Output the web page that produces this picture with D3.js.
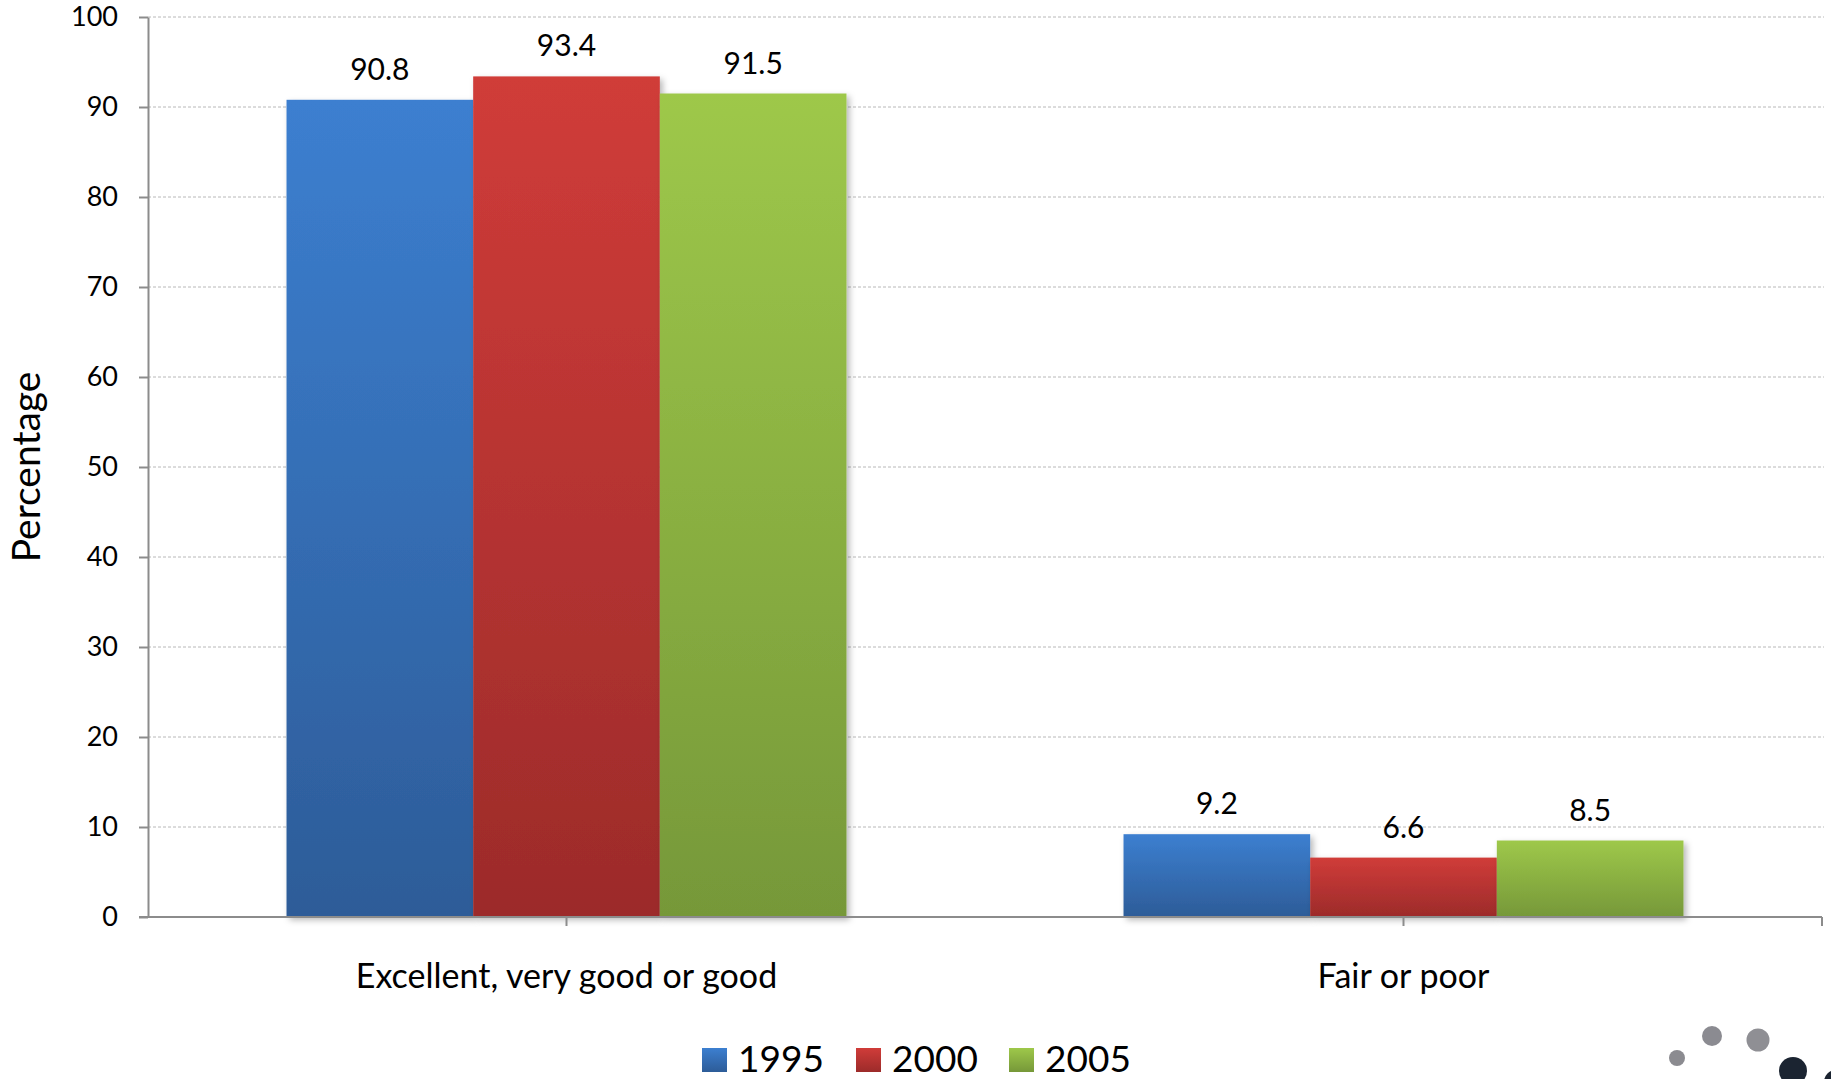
<!DOCTYPE html>
<html>
<head>
<meta charset="utf-8">
<script src="https://cdn.jsdelivr.net/npm/d3@7"></script>
<style>
  html, body { margin: 0; padding: 0; background: #fff; }
  svg { display: block; font-family: Lato, "Open Sans", sans-serif; }
</style>
</head>
<body>
<svg id="chart" width="1831" height="1079"></svg>
<script>
// Self-rated health, share of respondents by survey year
const categories = ["Excellent, very good or good", "Fair or poor"];
const years = ["1995", "2000", "2005"];
const values1995 = [90.8, 9.2];
const values2000 = [93.4, 6.6];
const values2005 = [91.5, 8.5];
const yTicks = [0, 10, 20, 30, 40, 50, 60, 70, 80, 90, 100];
const yTitle = "Percentage";

const seriesValues = [values1995, values2000, values2005];
const colors = [
  { top: "#3c7fd0", bottom: "#2d5c98" },
  { top: "#d03c39", bottom: "#9c2b2a" },
  { top: "#9ec84a", bottom: "#769839" }
];

const svg = d3.select("#chart");
const plot = { left: 148, right: 1822, top: 17, bottom: 917 };

const defs = svg.append("defs");
colors.forEach((c, i) => {
  const g = defs.append("linearGradient")
    .attr("id", "grad" + i).attr("x1", 0).attr("y1", 0).attr("x2", 0).attr("y2", 1);
  g.append("stop").attr("offset", "0%").attr("stop-color", c.top);
  g.append("stop").attr("offset", "100%").attr("stop-color", c.bottom);
});
const shadow = defs.append("filter").attr("id", "shadow")
  .attr("x", "-10%").attr("y", "-10%").attr("width", "130%").attr("height", "130%");
shadow.append("feDropShadow").attr("dx", 3).attr("dy", 3)
  .attr("stdDeviation", 3).attr("flood-color", "#000").attr("flood-opacity", 0.28);

const y = d3.scaleLinear().domain([0, 100]).range([plot.bottom, plot.top]);
const x0 = d3.scaleBand().domain(categories)
  .range([plot.left, plot.right]).paddingInner(0.331).paddingOuter(0.1655);
const x1 = d3.scaleBand().domain(years).range([0, x0.bandwidth()]).padding(0);

// Horizontal gridlines
svg.append("g").selectAll("line")
  .data(yTicks.filter(t => t > 0))
  .join("line")
  .attr("x1", plot.left).attr("x2", plot.right + 2)
  .attr("y1", d => y(d)).attr("y2", d => y(d))
  .attr("stroke", "#b8b8b8").attr("stroke-width", 1)
  .attr("stroke-dasharray", "3,2");

// Y axis
const yAxis = svg.append("g")
  .attr("transform", `translate(${plot.left},0)`)
  .call(d3.axisLeft(y).tickValues(yTicks).tickSize(9).tickPadding(21).tickSizeOuter(0));
yAxis.select(".domain").attr("stroke", "#8c8c8c").attr("stroke-width", 2);
yAxis.selectAll(".tick line").attr("stroke", "#8c8c8c").attr("stroke-width", 2);
yAxis.selectAll(".tick text")
  .attr("font-size", 27).attr("fill", "#000")
  .attr("font-family", "Lato, sans-serif");

// Bars
const groups = svg.append("g").selectAll("g")
  .data(categories)
  .join("g")
  .attr("transform", d => `translate(${x0(d)},0)`);

groups.selectAll("rect")
  .data((d, ci) => years.map((yr, si) => ({ yr, si, v: seriesValues[si][ci] })))
  .join("rect")
  .attr("x", d => x1(d.yr))
  .attr("y", d => y(d.v))
  .attr("width", x1.bandwidth())
  .attr("height", d => y(0) - y(d.v))
  .attr("fill", d => `url(#grad${d.si})`)
  .attr("filter", "url(#shadow)");

groups.selectAll("text")
  .data((d, ci) => years.map((yr, si) => ({ yr, si, v: seriesValues[si][ci] })))
  .join("text")
  .attr("x", d => x1(d.yr) + x1.bandwidth() / 2)
  .attr("y", d => y(d.v) - 20)
  .attr("text-anchor", "middle")
  .attr("font-size", 30)
  .attr("fill", "#000")
  .text(d => d.v.toFixed(1));

// X axis line with ticks
const xAxisG = svg.append("g");
xAxisG.append("line")
  .attr("x1", plot.left - 9).attr("x2", plot.right)
  .attr("y1", plot.bottom).attr("y2", plot.bottom)
  .attr("stroke", "#8c8c8c").attr("stroke-width", 2);
const xTickPos = categories.map(c => x0(c) + x0.bandwidth() / 2).concat([plot.right]);
xAxisG.selectAll("line.tick")
  .data(xTickPos)
  .join("line")
  .attr("class", "tick")
  .attr("x1", d => d).attr("x2", d => d)
  .attr("y1", plot.bottom).attr("y2", plot.bottom + 9)
  .attr("stroke", "#8c8c8c").attr("stroke-width", 2);
xAxisG.selectAll("text")
  .data(categories)
  .join("text")
  .attr("x", d => x0(d) + x0.bandwidth() / 2)
  .attr("y", 988)
  .attr("text-anchor", "middle")
  .attr("font-size", 34)
  .attr("fill", "#000")
  .text(d => d);

// Y axis title
svg.append("text")
  .attr("transform", "translate(40,467) rotate(-90)")
  .attr("text-anchor", "middle")
  .attr("font-size", 39)
  .attr("fill", "#000")
  .text(yTitle);

// Legend
const legendItems = [
  { label: years[0], x: 702 },
  { label: years[1], x: 856 },
  { label: years[2], x: 1009 }
];
const legend = svg.append("g");
legend.selectAll("rect")
  .data(legendItems)
  .join("rect")
  .attr("x", d => d.x).attr("y", 1048)
  .attr("width", 25).attr("height", 24)
  .attr("fill", (d, i) => `url(#grad${i})`);
legend.selectAll("text")
  .data(legendItems)
  .join("text")
  .attr("x", d => d.x + 36).attr("y", 1072)
  .attr("font-size", 37)
  .attr("fill", "#000")
  .text(d => d.label);

// Corner logo dots
const logo = svg.append("g");
[
  { cx: 1677, cy: 1058, r: 8, f: "#8b8b90" },
  { cx: 1712, cy: 1036, r: 10, f: "#8b8b91" },
  { cx: 1758, cy: 1040, r: 11.5, f: "#8f8f94" },
  { cx: 1793, cy: 1071, r: 14, f: "#1b2431" },
  { cx: 1836, cy: 1082, r: 12, f: "#1b2431" }
].forEach(c => logo.append("circle").attr("cx", c.cx).attr("cy", c.cy).attr("r", c.r).attr("fill", c.f));
</script>
</body>
</html>
